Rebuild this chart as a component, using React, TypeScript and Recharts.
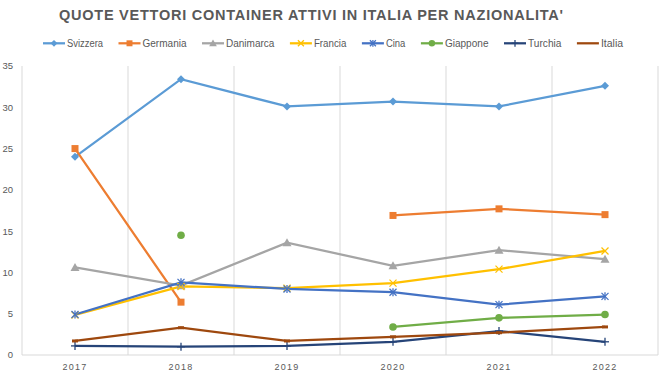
// Line chart: share of active container carriers in Italy by nationality, 2017-2022.

import { LineChart, Line, XAxis, YAxis, ReferenceLine } from 'recharts';

const years = ['2017', '2018', '2019', '2020', '2021', '2022'];

const svizzera = [24, 33.4, 30.1, 30.7, 30.1, 32.6];
const germania = [25, 6.4, null, 16.9, 17.7, 17.0];
const danimarca = [10.6, 8.4, 13.6, 10.8, 12.7, 11.6];
const francia = [4.85, 8.3, 8.1, 8.7, 10.4, 12.6];
const cina = [4.9, 8.8, 8.0, 7.6, 6.1, 7.1];
const giappone = [null, 14.5, null, 3.4, 4.5, 4.9];
const turchia = [1.1, 1.0, 1.1, 1.6, 2.9, 1.6];
const italia = [1.7, 3.3, 1.7, 2.2, 2.7, 3.4];

const yTicks = [0, 5, 10, 15, 20, 25, 30, 35];

type Kind = 'diamond' | 'square' | 'triangle' | 'x' | 'star' | 'circle' | 'plus' | 'dash';

// textW: legend label width, matched to the original's narrow font
const SERIES: { key: string; name: string; values: (number | null)[]; color: string; kind: Kind; textW: number }[] = [
  { key: 'svizzera', name: 'Svizzera', values: svizzera, color: '#5B9BD5', kind: 'diamond', textW: 36 },
  { key: 'germania', name: 'Germania', values: germania, color: '#ED7D31', kind: 'square', textW: 44 },
  { key: 'danimarca', name: 'Danimarca', values: danimarca, color: '#A5A5A5', kind: 'triangle', textW: 48.4 },
  { key: 'francia', name: 'Francia', values: francia, color: '#FFC000', kind: 'x', textW: 32.5 },
  { key: 'cina', name: 'Cina', values: cina, color: '#4472C4', kind: 'star', textW: 19.5 },
  { key: 'giappone', name: 'Giappone', values: giappone, color: '#70AD47', kind: 'circle', textW: 43.6 },
  { key: 'turchia', name: 'Turchia', values: turchia, color: '#264478', kind: 'plus', textW: 33.4 },
  { key: 'italia', name: 'Italia', values: italia, color: '#9E480E', kind: 'dash', textW: 22.2 },
];

const data = years.map((y, i) => {
  const row: Record<string, number | string | null> = { x: i + 0.5, year: y };
  for (const s of SERIES) row[s.key] = s.values[i];
  return row;
});

const FONT = '"Liberation Sans", Arial, sans-serif';
const GRID = '#d9d9d9';
const TEXT = '#595959';

function Marker({ kind, cx, cy, color, s = 1 }: { kind: Kind; cx: number; cy: number; color: string; s?: number }) {
  const r = 4 * s;
  switch (kind) {
    case 'diamond':
      return <polygon points={`${cx},${cy - r} ${cx + r},${cy} ${cx},${cy + r} ${cx - r},${cy}`} fill={color} />;
    case 'square':
      return <rect x={cx - 3.5 * s} y={cy - 3.5 * s} width={7 * s} height={7 * s} fill={color} />;
    case 'triangle':
      return (
        <polygon
          points={`${cx},${cy - 4.5 * s} ${cx + 4.5 * s},${cy + 3.5 * s} ${cx - 4.5 * s},${cy + 3.5 * s}`}
          fill={color}
        />
      );
    case 'x':
      return (
        <g stroke={color} strokeWidth={1.3}>
          <line x1={cx - 3.5 * s} y1={cy - 3.5 * s} x2={cx + 3.5 * s} y2={cy + 3.5 * s} />
          <line x1={cx - 3.5 * s} y1={cy + 3.5 * s} x2={cx + 3.5 * s} y2={cy - 3.5 * s} />
        </g>
      );
    case 'star':
      return (
        <g stroke={color} strokeWidth={1.3}>
          <line x1={cx - 3.5 * s} y1={cy - 3.5 * s} x2={cx + 3.5 * s} y2={cy + 3.5 * s} />
          <line x1={cx - 3.5 * s} y1={cy + 3.5 * s} x2={cx + 3.5 * s} y2={cy - 3.5 * s} />
          <line x1={cx} y1={cy - r} x2={cx} y2={cy + r} />
        </g>
      );
    case 'circle':
      return <circle cx={cx} cy={cy} r={3.8 * s} fill={color} />;
    case 'plus':
      return (
        <g stroke={color} strokeWidth={1.3}>
          <line x1={cx - r} y1={cy} x2={cx + r} y2={cy} />
          <line x1={cx} y1={cy - r} x2={cx} y2={cy + r} />
        </g>
      );
    case 'dash':
      return <rect x={cx - 3 * s} y={cy - 1.5} width={6 * s} height={3} fill={color} />;
  }
}

function makeDot(kind: Kind, color: string) {
  return (props: any) => {
    const { cx, cy, index, value } = props;
    const v = Array.isArray(value) ? value[1] : value;
    if (cx == null || cy == null || v == null) {
      return <g key={`e-${index}`} />;
    }
    return (
      <g key={`d-${index}`}>
        <Marker kind={kind} cx={cx} cy={cy} color={color} />
      </g>
    );
  };
}

function Header() {
  const gap = 15.5;
  const lineLen = 22;
  const cy = 43.3;
  let x = 43;
  const items = SERIES.map((s) => {
    const x0 = x;
    x += lineLen + 2 + s.textW + gap;
    return (
      <g key={s.key}>
        <line x1={x0} y1={cy} x2={x0 + lineLen} y2={cy} stroke={s.color} strokeWidth={2.25} />
        {s.kind !== 'dash' && <Marker kind={s.kind} cx={x0 + lineLen / 2} cy={cy} color={s.color} s={0.85} />}
        <text
          x={x0 + lineLen + 2}
          y={cy + 3.6}
          fontSize={10}
          fill={TEXT}
          textLength={s.textW}
          lengthAdjust="spacingAndGlyphs"
        >
          {s.name}
        </text>
      </g>
    );
  });
  return (
    <svg width={659} height={60} style={{ position: 'absolute', left: 0, top: 0, pointerEvents: 'none' }} fontFamily={FONT}>
      <text x={59} y={20.3} fontSize={14.5} fontWeight="bold" fill={TEXT} textLength={504} lengthAdjust="spacing">
        QUOTE VETTORI CONTAINER ATTIVI IN ITALIA PER NAZIONALITA'
      </text>
      {items}
    </svg>
  );
}

export default function App() {
  return (
    <div style={{ position: 'fixed', left: 0, top: 0, width: 659, height: 380, background: '#fff', fontFamily: FONT }}>
      <LineChart width={659} height={380} data={data} margin={{ top: 66, right: 1, bottom: 5, left: 0 }}>
        <XAxis
          dataKey="x"
          type="number"
          domain={[0, 6]}
          ticks={years.map((_, i) => i + 0.5)}
          tickFormatter={(v: number) => years[Math.round(v - 0.5)]}
          height={20}
          axisLine={{ stroke: GRID }}
          tickLine={false}
          tickSize={0}
          tickMargin={9}
          tick={{ fontSize: 9, fill: TEXT, letterSpacing: 1.2 }}
          allowDataOverflow
        />
        <YAxis
          domain={[0, 35]}
          ticks={yTicks}
          width={22}
          axisLine={false}
          tickLine={false}
          tickSize={0}
          tickMargin={9}
          tick={{ fontSize: 9.5, fill: TEXT }}
          allowDataOverflow
        />
        {years.map((_, i) => (
          <ReferenceLine key={`g${i}`} x={i} stroke={GRID} strokeWidth={1} />
        ))}
        <ReferenceLine key="g6" x={years.length} stroke={GRID} strokeWidth={1} />
        {SERIES.map((s) => (
          <Line
            key={s.key}
            dataKey={s.key}
            name={s.name}
            type="linear"
            stroke={s.color}
            strokeWidth={2.25}
            dot={makeDot(s.kind, s.color)}
            activeDot={false}
            connectNulls={false}
            isAnimationActive={false}
          />
        ))}
      </LineChart>
      <Header />
    </div>
  );
}
